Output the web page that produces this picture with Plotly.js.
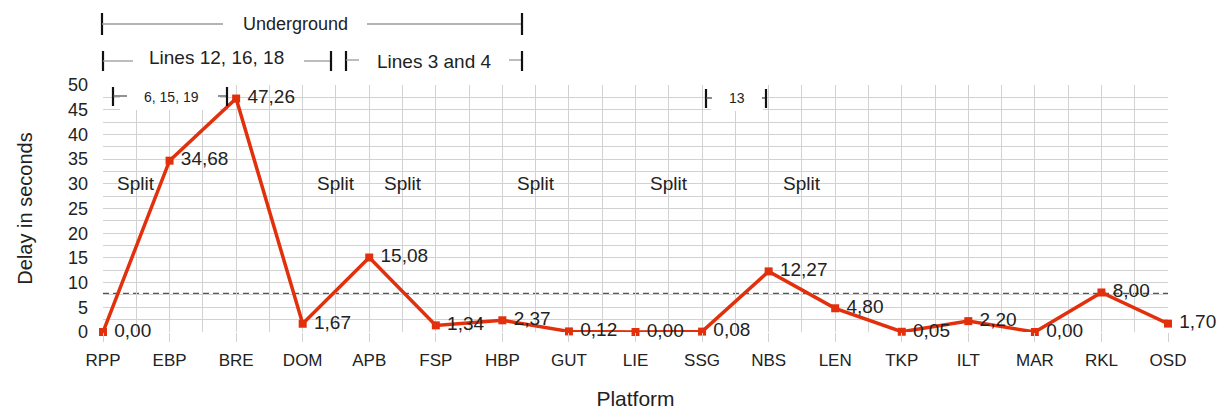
<!DOCTYPE html>
<html>
<head>
<meta charset="utf-8">
<script src="https://cdn.plot.ly/plotly-3.0.1.min.js"></script>
<style>html,body{margin:0;padding:0;background:#fff;}#chart{width:1227px;height:412px;}</style>
</head>
<body>
<div id="chart"></div>
<script>
// ---- data ----
const platforms = ["RPP","EBP","BRE","DOM","APB","FSP","HBP","GUT","LIE","SSG","NBS","LEN","TKP","ILT","MAR","RKL","OSD"];
const delays = [0.00, 34.68, 47.26, 1.67, 15.08, 1.34, 2.37, 0.12, 0.00, 0.08, 12.27, 4.80, 0.05, 2.20, 0.00, 8.00, 1.70];
const yTicks = [0,5,10,15,20,25,30,35,40,45,50];
const splitPositions = [0.5, 3.5, 4.5, 6.5, 8.5, 10.5];
const splitLabel = "Split";
const splitLevel = 30;

const xIdx = platforms.map((p, i) => i);
const labels = delays.map(v => '\u00a0' + v.toFixed(2).replace('.', ','));
const meanDelay = delays.reduce((a, b) => a + b, 0) / delays.length;

const FONT = "Liberation Sans, Arial, sans-serif";
const TXT = "#222";

// layout geometry helpers (pixel -> paper)
const L = 103, R = 59, T = 85, B = 80, W = 1227, H = 412;
const PW = W - L - R, PH = H - T - B;
const px = x => (x - L) / PW;
const py = y => (H - B - y) / PH;

const shapes = [];
const annotations = [];

function hline(x0, x1, y, color, width) {
  shapes.push({type: 'line', xref: 'paper', yref: 'paper', x0: px(x0), x1: px(x1), y0: py(y), y1: py(y),
    line: {color: color || '#9a9a9a', width: width || 1.3}});
}
function vbar(x, y0, y1) {
  shapes.push({type: 'line', xref: 'paper', yref: 'paper', x0: px(x), x1: px(x), y0: py(y0), y1: py(y1),
    line: {color: '#111', width: 2.2}});
}
function rect(x0, x1, y0, y1) {
  shapes.push({type: 'rect', xref: 'paper', yref: 'paper', x0: px(x0), x1: px(x1), y0: py(y0), y1: py(y1),
    fillcolor: '#fff', line: {width: 0}, layer: 'above'});
}
function label(text, x, y, size) {
  annotations.push({text: text, xref: 'paper', yref: 'paper', x: px(x), y: py(y), showarrow: false,
    xanchor: 'center', yanchor: 'middle', font: {family: FONT, size: size, color: TXT}});
}

// Underground bracket
vbar(102, 13, 35); hline(102, 223, 24); hline(367, 522, 24); vbar(522, 13, 35);
label("Underground", 295, 24, 18);
// Lines 12, 16, 18
vbar(103, 51, 71); hline(103, 133, 61); hline(304, 331, 61); vbar(331, 51, 71);
label("Lines 12, 16, 18", 216, 57, 19);
// Lines 3 and 4
vbar(346, 51, 71); hline(346, 359, 60); hline(509, 522, 60); vbar(522, 51, 71);
label("Lines 3 and 4", 434, 62, 19);
// 6, 15, 19 (inside plot)
rect(120, 220, 84, 110);
vbar(113, 87, 106); hline(113, 127, 96, '#555'); hline(218, 227, 96, '#555'); vbar(227, 87, 106);
label("6, 15, 19", 171, 97, 14);
// 13
rect(711, 763, 84, 111);
vbar(706, 89, 108); hline(706, 712, 98, '#555'); hline(762, 766, 98, '#555'); vbar(766, 89, 108);
label("13", 737, 98, 14);

// mean dashed line
shapes.push({type: 'line', xref: 'x', yref: 'y', x0: 0, x1: platforms.length - 1, y0: meanDelay, y1: meanDelay,
  line: {color: '#555', width: 1.8, dash: '6px,4px'}, layer: 'below'});

// Split labels
splitPositions.forEach(p => annotations.push({text: splitLabel, xref: 'x', yref: 'y', x: p, y: splitLevel,
  showarrow: false, xanchor: 'center', yanchor: 'middle', font: {family: FONT, size: 19, color: TXT}}));

const trace = {
  x: xIdx, y: delays, type: 'scatter', mode: 'lines+markers+text',
  text: labels, textposition: 'middle right',
  textfont: {family: FONT, size: 19, color: TXT},
  line: {color: '#e2300c', width: 3.5},
  marker: {symbol: 'square', size: 8, color: '#e2300c'},
  cliponaxis: false, hoverinfo: 'skip'
};

const layout = {
  width: W, height: H,
  margin: {l: L, r: R, t: T, b: B, pad: 0},
  paper_bgcolor: '#fff', plot_bgcolor: '#fff',
  showlegend: false,
  font: {family: FONT, color: TXT},
  xaxis: {
    range: [0, platforms.length - 1], tickvals: xIdx, ticktext: platforms,
    showgrid: true, gridcolor: '#d2d2d2', gridwidth: 1,
    minor: {dtick: 0.5, tick0: 0, showgrid: true, gridcolor: '#d2d2d2', gridwidth: 1},
    ticks: 'outside', ticklen: 9, tickcolor: '#d2d2d2', tickwidth: 1,
    zeroline: false, showline: false,
    tickfont: {family: FONT, size: 17, color: TXT},
    ticklabelstandoff: 4,
    title: {text: 'Platform', font: {family: FONT, size: 21, color: TXT}, standoff: 21}
  },
  yaxis: {
    range: [0, 50], tickvals: yTicks, ticktext: yTicks.map(String),
    showgrid: true, gridcolor: '#d2d2d2', gridwidth: 1,
    minor: {dtick: 2.5, tick0: 0, showgrid: true, gridcolor: '#d2d2d2', gridwidth: 1},
    ticks: '', zeroline: false, showline: false,
    tickfont: {family: FONT, size: 18, color: TXT},
    ticklabelstandoff: 14,
    title: {text: 'Delay in seconds', font: {family: FONT, size: 20, color: TXT}, standoff: 29}
  },
  shapes: shapes,
  annotations: annotations
};

Plotly.newPlot('chart', [trace], layout, {displayModeBar: false, staticPlot: true});
</script>
</body>
</html>
